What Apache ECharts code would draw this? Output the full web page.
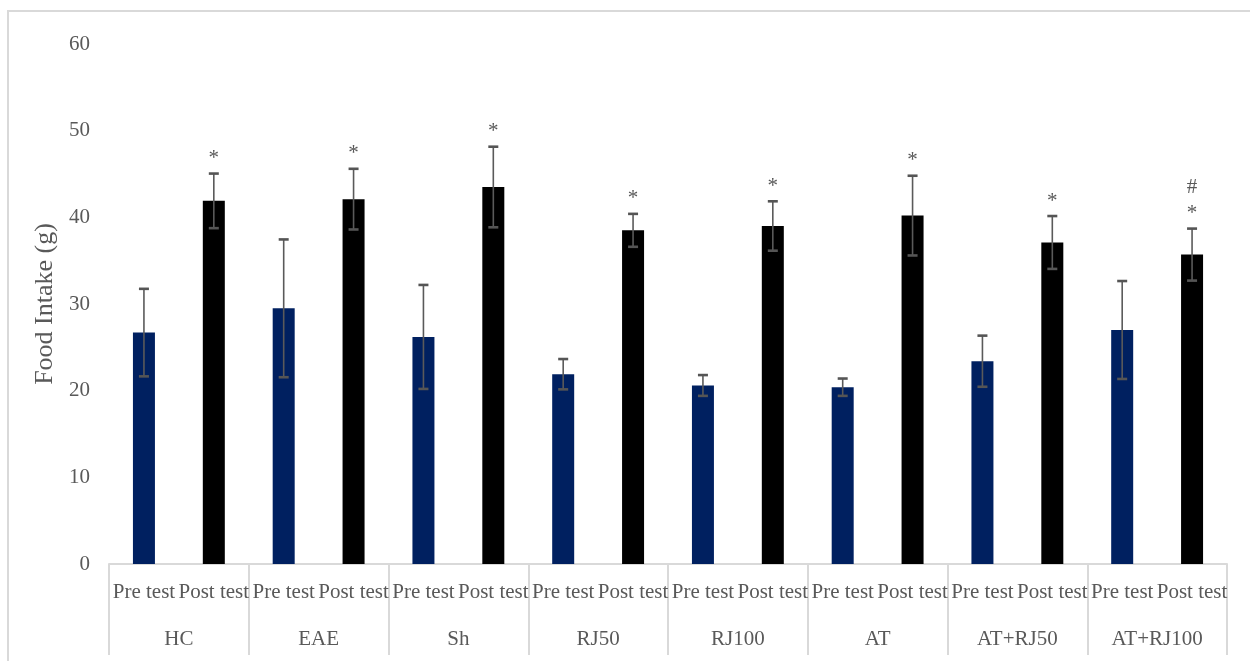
<!DOCTYPE html>
<html>
<head>
<meta charset="utf-8">
<script src="https://cdn.jsdelivr.net/npm/echarts@6/dist/echarts.min.js"></script>
<style>
  html, body { margin: 0; padding: 0; background: #ffffff; }
  #chart { width: 1250px; height: 661px; }
</style>
</head>
<body>
<div id="chart"></div>
<script>
// Groups and time points on the two-level category axis
const groups = ['HC', 'EAE', 'Sh', 'RJ50', 'RJ100', 'AT', 'AT+RJ50', 'AT+RJ100'];
const phases = ['Pre test', 'Post test'];

// Food intake (g): mean values and error half-widths per group
const preMean  = [26.7, 29.5, 26.2, 21.9, 20.6, 20.4, 23.4, 27.0];
const preErr   = [5.05, 7.95, 6.0, 1.75, 1.2, 1.0, 2.95, 5.65];
const postMean = [41.9, 42.1, 43.5, 38.5, 39.0, 40.2, 37.1, 35.7];
const postErr  = [3.15, 3.5, 4.65, 1.9, 2.85, 4.6, 3.05, 3.0];

// Significance marks above the post-test bars
const postMarks = ['*', '*', '*', '*', '*', '*', '*', '#\n*'];

// Y axis ticks
const yTicks = { min: 0, max: 60, interval: 10 };

const FONT = '"Liberation Serif", "Times New Roman", serif';
const TEXT_GREY = '#595959';
const LINE_GREY = '#d9d9d9';
const PRE_COLOR = '#002060';
const POST_COLOR = '#000000';

// Flatten into one 16-slot category axis: Pre/Post for each group
const subCats = [];
const values = [];
const errRows = [];
groups.forEach((g, i) => {
  subCats.push(phases[0], phases[1]);
  values.push(preMean[i], postMean[i]);
  errRows.push([2 * i, preMean[i], preErr[i], '']);
  errRows.push([2 * i + 1, postMean[i], postErr[i], postMarks[i]]);
});

const chart = echarts.init(document.getElementById('chart'), null, { renderer: 'canvas' });

function renderErrorBar(params, api) {
  const idx = api.value(0);
  const mean = api.value(1);
  const err = api.value(2);
  const mark = errRows[params.dataIndex][3];
  const top = api.coord([idx, mean + err]);
  const bot = api.coord([idx, mean - err]);
  const hw = 5;
  const stroke = { stroke: '#5a5a5a', lineWidth: 1.6 };
  const capStyle = { stroke: '#555555', lineWidth: 2.6 };
  const children = [
    { type: 'line', shape: { x1: top[0], y1: top[1], x2: bot[0], y2: bot[1] }, style: stroke },
    { type: 'line', shape: { x1: top[0] - hw, y1: top[1], x2: top[0] + hw, y2: top[1] }, style: capStyle },
    { type: 'line', shape: { x1: bot[0] - hw, y1: bot[1], x2: bot[0] + hw, y2: bot[1] }, style: capStyle }
  ];
  if (mark) {
    children.push({
      type: 'text',
      x: top[0],
      y: top[1] - 2,
      style: {
        text: mark,
        fill: TEXT_GREY,
        font: '21px ' + FONT,
        lineHeight: 26,
        align: 'center',
        verticalAlign: 'bottom'
      }
    });
  }
  return { type: 'group', children: children };
}

const option = {
  backgroundColor: '#ffffff',
  animation: false,
  grid: { left: 109, right: 23, top: 44, bottom: 97, containLabel: false },
  graphic: [
    {
      type: 'rect',
      silent: true,
      shape: { x: 8, y: 11, width: 1300, height: 700 },
      style: { fill: 'none', stroke: LINE_GREY, lineWidth: 2 }
    }
  ],
  xAxis: [
    {
      type: 'category',
      data: subCats,
      position: 'bottom',
      axisLine: { show: true, lineStyle: { color: LINE_GREY, width: 2 } },
      axisTick: { show: false },
      axisLabel: {
        interval: 0,
        margin: 18,
        color: TEXT_GREY,
        fontFamily: FONT,
        fontSize: 21
      }
    },
    {
      type: 'category',
      data: groups,
      position: 'bottom',
      axisLine: { show: false },
      axisTick: { show: true, length: 91, lineStyle: { color: LINE_GREY, width: 2 } },
      axisLabel: {
        interval: 0,
        margin: 65,
        color: TEXT_GREY,
        fontFamily: FONT,
        fontSize: 21
      }
    }
  ],
  yAxis: {
    type: 'value',
    min: yTicks.min,
    max: yTicks.max,
    interval: yTicks.interval,
    name: 'Food Intake (g)',
    nameLocation: 'middle',
    nameRotate: 90,
    nameGap: 51,
    nameTextStyle: { color: TEXT_GREY, fontFamily: FONT, fontSize: 26 },
    axisLine: { show: false },
    axisTick: { show: false },
    splitLine: { show: false },
    axisLabel: {
      margin: 19,
      color: TEXT_GREY,
      fontFamily: FONT,
      fontSize: 21
    }
  },
  series: [
    {
      type: 'bar',
      xAxisIndex: 0,
      data: values,
      barWidth: 22,
      itemStyle: {
        color: (p) => (p.dataIndex % 2 === 0 ? PRE_COLOR : POST_COLOR)
      }
    },
    {
      type: 'custom',
      xAxisIndex: 0,
      data: errRows.map(r => [r[0], r[1], r[2]]),
      renderItem: renderErrorBar,
      z: 5
    }
  ]
};

chart.setOption(option);
</script>
</body>
</html>
